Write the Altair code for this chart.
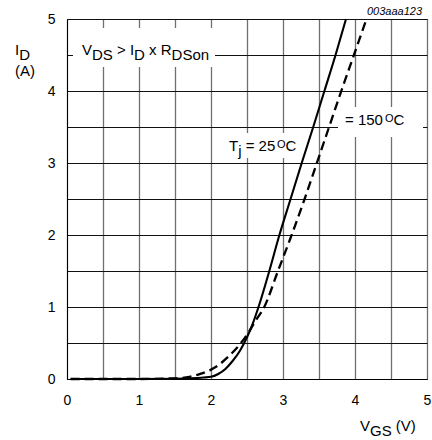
import altair as alt
import pandas as pd

# ---- data ----
vgs_25 = [0.05, 0.5, 1.0, 1.5, 1.7, 1.9, 2.0, 2.1, 2.2, 2.3, 2.4, 2.5, 2.58,
          2.66, 2.81, 2.95, 3.105, 3.26, 3.42, 3.575, 3.73, 3.875]
id_25 = [0.0, 0.0, 0.0, 0.004, 0.009, 0.02, 0.03, 0.07, 0.14, 0.25, 0.39, 0.58, 0.77,
         1.0, 1.5, 2.0, 2.5, 3.0, 3.5, 4.0, 4.5, 5.0]

vgs_150 = [0.05, 1.0, 1.5, 1.7, 1.85, 2.0, 2.1, 2.25, 2.4, 2.53, 2.6, 2.74,
           2.93, 3.12, 3.3, 3.47, 3.64, 3.81, 3.985, 4.16]
id_150 = [0.0, 0.0, 0.01, 0.03, 0.07, 0.13, 0.19, 0.32, 0.48, 0.66, 0.78, 1.0,
          1.5, 2.0, 2.5, 3.0, 3.5, 4.0, 4.5, 5.0]

grid_vals = [0, 0.5, 1, 1.5, 2, 2.5, 3, 3.5, 4, 4.5, 5]

FONT = "Liberation Sans"
LEFT, TOP = 67, 19
W, H = 360, 360

df25 = pd.DataFrame({"vgs": vgs_25, "id": id_25})
df150 = pd.DataFrame({"vgs": vgs_150, "id": id_150})
one = pd.DataFrame({"a": [0]})

xs = alt.Scale(domain=[0, 5], nice=False, zero=False)
ys = alt.Scale(domain=[0, 5], nice=False, zero=False)

lab = "datum.value % 1 == 0 ? format(datum.value, 'd') : ''"
xaxis = alt.Axis(values=grid_vals, labelExpr=lab, title=None, ticks=False,
                 labelFlush=False, labelOverlap=False, labelFontSize=14,
                 labelFont=FONT, labelColor="black", labelPadding=14,
                 grid=True, gridColor="#707070", gridWidth=1.3, gridOpacity=1,
                 domainColor="black", domainWidth=1)
yaxis = alt.Axis(values=grid_vals, labelExpr=lab, title=None, ticks=False,
                 labelFlush=False, labelOverlap=False, labelFontSize=14,
                 labelFont=FONT, labelColor="black", labelPadding=12,
                 grid=True, gridColor="#111111", gridWidth=1, gridOpacity=1,
                 domainColor="black", domainWidth=1)

solid = alt.Chart(df25).mark_line(color="black", strokeWidth=2.1, interpolate="monotone").encode(
    x=alt.X("vgs:Q", scale=xs, axis=xaxis),
    y=alt.Y("id:Q", scale=ys, axis=yaxis),
)
dashed = alt.Chart(df150).mark_line(color="black", strokeWidth=2.3, strokeDash=[9, 5],
                                    interpolate="monotone").encode(
    x=alt.X("vgs:Q", scale=xs, axis=xaxis),
    y=alt.Y("id:Q", scale=ys, axis=yaxis),
)


def box(x1, x2, y1, y2):
    return alt.Chart(one).mark_rect(color="white").encode(
        x=alt.value(x1 - LEFT), x2=alt.value(x2 - LEFT),
        y=alt.value(y1 - TOP), y2=alt.value(y2 - TOP))


WID = {'V': 667, 'D': 722, 'S': 667, ' ': 278, '>': 584, 'I': 278, 'x': 500,
       'R': 722, 'o': 556, 'n': 556, 'T': 611, 'j': 222, '=': 584, 'C': 722,
       'O': 778, '(': 333, ')': 333, 'A': 667, 'G': 778}
for d in "0123456789":
    WID[d] = 556


def width(s, fs):
    return sum(WID.get(c, 556) for c in s) * fs / 1000.0


def txt(s, x, y, size=15, style="normal", align="left"):
    return alt.Chart(one).mark_text(text=s, font=FONT, fontSize=size, fontStyle=style,
                                    align=align, baseline="alphabetic", color="black").encode(
        x=alt.value(x - LEFT), y=alt.value(y - TOP))


def runs(parts, x0, base, size=15):
    out = []
    x = x0
    for s, dy, sz in parts:
        fs = sz or size
        core = s.strip(" ")
        lead = len(s) - len(s.lstrip(" "))
        x += width(" " * lead, fs)
        out.append(txt(core, x, base + dy, fs))
        x += width(s[lead:], fs)
    return out


layers = [box(73, 215, 28, 67), box(225, 302, 133, 158), box(338, 423, 107, 137)]
layers += [dashed, solid]

SUB = 5
# V_DS > I_D x R_DSon
layers += runs([("V", 0, None), ("DS", SUB, None), (" > ", 0, None), ("I", 0, None),
                ("D", SUB, None), (" x ", 0, None), ("R", 0, None), ("DSon", SUB, None)],
               82, 55)
# I_D (A)
layers += runs([("I", 0, None), ("D", SUB, None)], 15, 55)
layers += [txt("(A)", 15, 76)]
# T_j = 25 oC
layers += runs([("T", 0, None), ("j", SUB, None), (" =", 0, None), (" 25", 0, None)], 229, 151)
layers += [txt("O", 277, 147.5, 11), txt("C", 285.5, 151)]
# = 150 oC
layers += runs([("=", 0, None), (" 150", 0, None)], 345, 125)
layers += [txt("O", 385, 121.5, 11), txt("C", 393.5, 125)]
# V_GS (V)
layers += runs([("V", 0, None), ("GS", SUB, None), (" (V)", 0, None)], 360, 431)
# code
layers += [txt("003aaa123", 422, 15, 11, style="italic", align="right")]

chart = alt.layer(*layers).properties(
    width=W, height=H,
    autosize=alt.AutoSizeParams(type="none"),
    padding={"left": LEFT, "top": TOP, "right": 432 - LEFT - W, "bottom": 440 - TOP - H},
    background="white",
).configure_view(stroke="black", strokeWidth=1)

chart.save("out.html", embed_options={"renderer": "svg", "actions": False})
